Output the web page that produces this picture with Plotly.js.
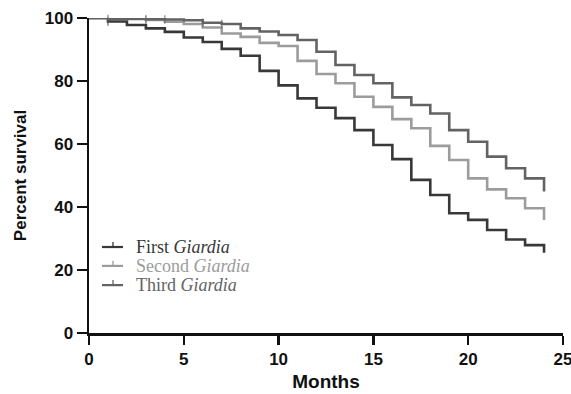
<!DOCTYPE html>
<html>
<head>
<meta charset="utf-8">
<script src="https://cdn.plot.ly/plotly-3.0.1.min.js"></script>
<style>html,body{margin:0;padding:0;background:#fff;}#chart{width:571px;height:394px;}</style>
</head>
<body>
<div id="chart"></div>
<script>
var months = [0,1,2,3,4,5,6,7,8,9,10,11,12,13,14,15,16,17,18,19,20,21,22,23,24];
var firstGiardia  = [100, 98.9, 97.8, 96.7, 95.6, 93.8, 92.4, 90.2, 88.0, 83.2, 78.6, 74.5, 71.5, 68.2, 64.4, 59.7, 55.2, 48.6, 43.8, 38.0, 35.9, 32.7, 29.7, 27.9, 25.5];
var secondGiardia = [100, 100, 99.8, 99.4, 98.8, 98.1, 97.0, 95.1, 94.0, 92.1, 91.1, 86.4, 82.2, 79.3, 75.0, 71.8, 67.9, 65.0, 59.4, 54.9, 49.1, 45.6, 42.8, 39.6, 35.9];
var thirdGiardia  = [100, 99.7, 99.7, 99.6, 99.5, 99.3, 98.5, 98.1, 96.7, 95.7, 94.6, 93.0, 89.3, 85.1, 81.9, 79.3, 74.8, 72.4, 69.7, 64.4, 60.7, 56.0, 52.3, 49.1, 44.9];
var seriesNames = ['First <i>Giardia</i>', 'Second <i>Giardia</i>', 'Third <i>Giardia</i>'];
var seriesColors = ['#383838', '#9c9c9c', '#636363'];
var censorFirst  = [0,1,0,0,0,0,0,0,0,0,0,0,0,0,0,0,0,0,0,0,0,0,0,0,0];
var censorSecond = [0,0,0,1,0,0,0,0,0,0,0,0,0,0,0,0,0,0,0,0,0,0,0,0,0];
var censorThird  = [0,1,0,1,1,0,1,1,0,0,0,0,0,0,0,0,0,0,0,0,0,0,0,0,0];

var allY = [firstGiardia, secondGiardia, thirdGiardia];
var allC = [censorFirst, censorSecond, censorThird];
var traces = [];
for (var i = 0; i < 3; i++) {
  traces.push({
    x: months, y: allY[i], type: 'scatter', mode: 'lines+markers',
    line: {shape: 'hv', color: seriesColors[i], width: 2.6},
    marker: {symbol: 'line-ns', size: allC[i].map(function(c){return c ? 6 : 0;}),
             line: {color: seriesColors[i], width: 1.3}, color: seriesColors[i]},
    name: seriesNames[i], showlegend: false, cliponaxis: false
  });
}

// Legend drawn as paper-positioned annotations and swatches
var legendY = [0.273, 0.213, 0.152];
var annotations = [], shapes = [];
for (var j = 0; j < 3; j++) {
  annotations.push({xref: 'paper', yref: 'paper', x: 0.094, y: legendY[j], xanchor: 'left', yanchor: 'middle',
    showarrow: false, text: seriesNames[j],
    font: {family: 'Liberation Serif, Times New Roman, serif', size: 18, color: seriesColors[j]}});
  shapes.push({type: 'line', xref: 'paper', yref: 'paper', x0: 0.0274, x1: 0.0717, y0: legendY[j], y1: legendY[j],
    line: {color: seriesColors[j], width: 2.2}});
  shapes.push({type: 'line', xref: 'paper', yref: 'paper', x0: 0.0506, x1: 0.0506, y0: legendY[j], y1: legendY[j] + 0.016,
    line: {color: seriesColors[j], width: 1.3}});
}

var tickFont = {family: 'Liberation Sans, Arial, sans-serif', size: 17, color: '#111', weight: 'bold'};
var layout = {
  width: 571, height: 394,
  margin: {l: 89, r: 8, t: 18, b: 61},
  paper_bgcolor: '#fff', plot_bgcolor: '#fff',
  showlegend: false,
  annotations: annotations, shapes: shapes,
  xaxis: {range: [0, 25], tickvals: [0,5,10,15,20,25], ticks: 'outside', ticklen: 9, tickwidth: 2.5,
          tickcolor: '#111', showline: true, linecolor: '#111', linewidth: 2.5, showgrid: false, zeroline: false,
          tickfont: tickFont, ticklabeloverflow: 'allow',
          title: {text: 'Months', font: {family: 'Liberation Sans, Arial, sans-serif', size: 19, color: '#111', weight: 'bold'}, standoff: 7}},
  yaxis: {range: [0, 100], tickvals: [0,20,40,60,80,100], ticks: 'outside', ticklen: 10, tickwidth: 2.5,
          tickcolor: '#111', showline: true, linecolor: '#111', linewidth: 2.5, showgrid: false, zeroline: false,
          tickfont: tickFont, ticklabeloverflow: 'allow',
          title: {text: 'Percent survival', font: {family: 'Liberation Sans, Arial, sans-serif', size: 17, color: '#111', weight: 'bold'}, standoff: 14}}
};
Plotly.newPlot('chart', traces, layout, {displayModeBar: false, staticPlot: true});
</script>
</body>
</html>
